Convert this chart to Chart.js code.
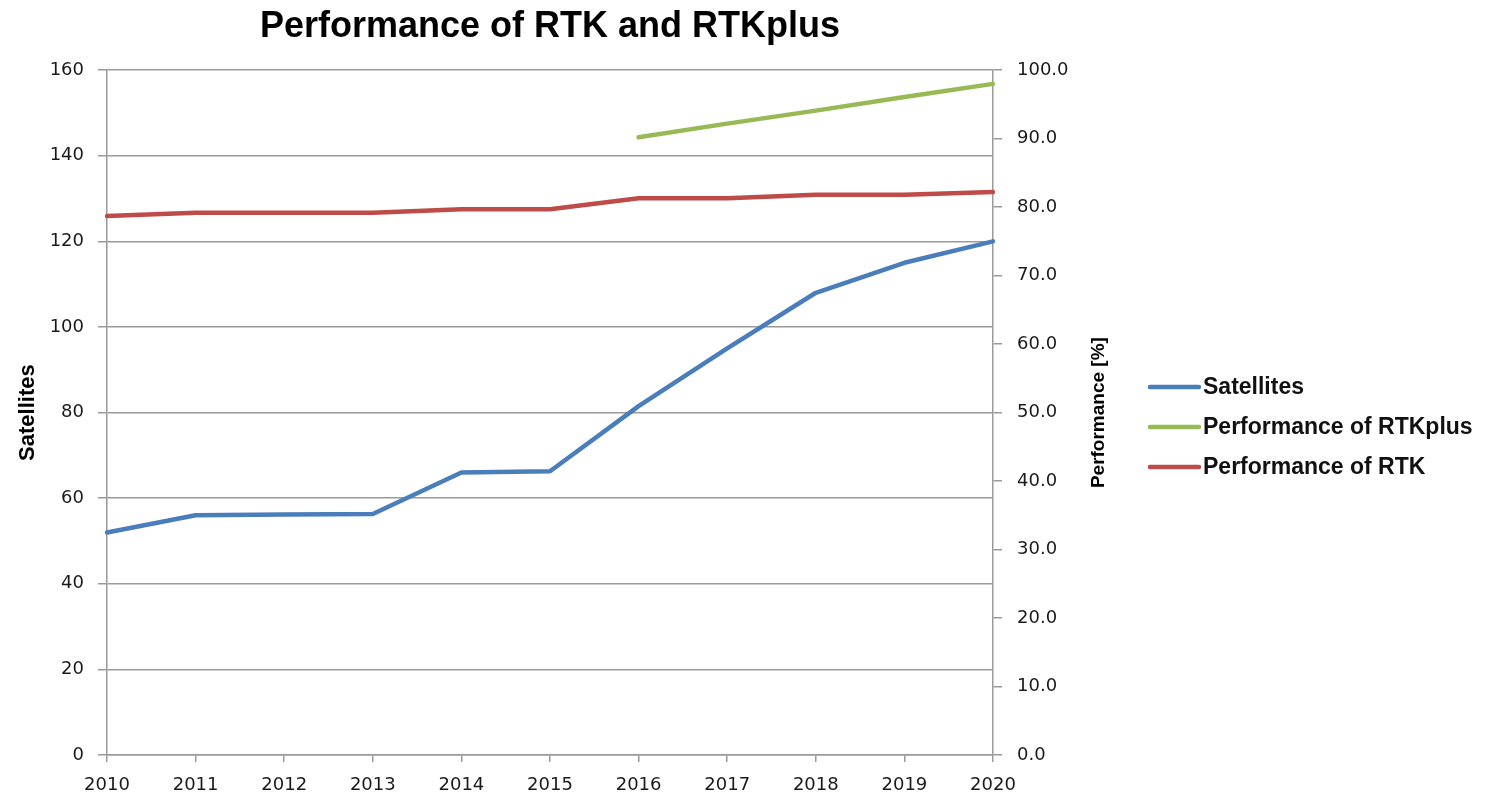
<!DOCTYPE html>
<html lang="en">
<head>
  <meta charset="UTF-8">
  <title>Performance of RTK and RTKplus</title>
  <script src="https://cdn.jsdelivr.net/npm/chart.js"></script>
  <style>
    body { margin: 0; background: #fff; }
    .chart-container { width: 1489px; height: 797px; position: relative; }
  </style>
</head>
<body>
  <div class="chart-container">
    <canvas id="rtkChart"></canvas>
  </div>

<script>
const years = ['2010', '2011', '2012', '2013', '2014', '2015', '2016', '2017', '2018', '2019', '2020'];
const satellites = [52, 56, 56.2, 56.3, 66, 66.3, 81.5, 95, 108, 115, 120];
const perfRTKplus = [null, null, null, null, null, null, 90.2, 92.2, 94.1, 96.1, 98.0];
const perfRTK = [78.7, 79.2, 79.2, 79.2, 79.7, 79.7, 81.3, 81.3, 81.8, 81.8, 82.2];

const gridGray = '#9a9a9a';
const tickFont = { family: 'DejaVu Sans', size: 18 };

// legend + right axis title drawn by hand (Excel reads the right title bottom-to-top)
const sideLegend = {
  id: 'sideLegend',
  afterDraw(chart) {
    const ctx = chart.ctx;
    const area = chart.chartArea;
    const rows = [387, 427, 467];
    ctx.save();
    ctx.font = 'bold 23px "Liberation Sans", Arial, sans-serif';
    ctx.textBaseline = 'middle';
    ctx.textAlign = 'left';
    chart.data.datasets.forEach((ds, i) => {
      const y = rows[i];
      ctx.strokeStyle = ds.borderColor;
      ctx.lineWidth = 4.5;
      ctx.lineCap = 'round';
      ctx.beginPath();
      ctx.moveTo(1150, y);
      ctx.lineTo(1199, y);
      ctx.stroke();
      ctx.fillStyle = '#111';
      ctx.fillText(ds.label, 1203, y + 1);
    });

    ctx.translate(1099, (area.top + area.bottom) / 2);
    ctx.rotate(-Math.PI / 2);
    ctx.textAlign = 'center';
    ctx.fillStyle = '#000';
    ctx.font = 'bold 19px "Liberation Sans", Arial, sans-serif';
    ctx.fillText('Performance [%]', 0, 0);
    ctx.restore();
  }
};

new Chart(document.getElementById('rtkChart'), {
  type: 'line',
  data: {
    labels: years,
    datasets: [
      { label: 'Satellites', data: satellites, borderColor: '#4a7ebb', yAxisID: 'y' },
      { label: 'Performance of RTKplus', data: perfRTKplus, borderColor: '#98b954', yAxisID: 'y1' },
      { label: 'Performance of RTK', data: perfRTK, borderColor: '#be4b48', yAxisID: 'y1' }
    ]
  },
  options: {
    responsive: true,
    maintainAspectRatio: false,
    animation: false,
    layout: { padding: { left: 0, right: 379, top: 0, bottom: 0 } },
    elements: {
      line: { borderWidth: 4.5, tension: 0, borderCapStyle: 'round', borderJoinStyle: 'round' },
      point: { radius: 0, hoverRadius: 0 }
    },
    plugins: {
      legend: { display: false },
      tooltip: { enabled: false },
      title: {
        display: true,
        fullSize: false,
        text: 'Performance of RTK and RTKplus',
        color: '#000',
        font: { family: 'Liberation Sans', size: 36, weight: 'bold' },
        padding: { top: 5, bottom: 22 }
      }
    },
    scales: {
      x: {
        type: 'category',
        offset: false,
        grid: { drawOnChartArea: false, drawTicks: true, tickLength: 7, color: gridGray, lineWidth: 1.5 },
        border: { color: gridGray, width: 1.5 },
        ticks: { font: tickFont, color: '#1a1a1a', padding: 13, maxRotation: 0, autoSkip: false },
        afterFit(scale) { scale.height = 42; }
      },
      y: {
        position: 'left',
        min: 0,
        max: 160,
        ticks: { stepSize: 20, font: tickFont, color: '#1a1a1a', padding: 14 },
        grid: { color: gridGray, lineWidth: 1.5, tickLength: 9 },
        border: { color: gridGray, width: 1.5 },
        title: {
          display: true,
          text: 'Satellites',
          color: '#000',
          font: { family: 'Liberation Sans', size: 22, weight: 'bold' },
          padding: { top: 15, bottom: 0 }
        },
        afterFit(scale) { scale.width = 107; }
      },
      y1: {
        position: 'right',
        min: 0,
        max: 100,
        ticks: {
          stepSize: 10,
          font: tickFont,
          color: '#1a1a1a',
          padding: 15,
          callback: (v) => Number(v).toFixed(1)
        },
        grid: { drawOnChartArea: false, color: gridGray, lineWidth: 1.5, tickLength: 9 },
        border: { color: gridGray, width: 1.5 },
        afterFit(scale) { scale.width = 117; }
      }
    }
  },
  plugins: [sideLegend]
});
</script>
</body>
</html>
